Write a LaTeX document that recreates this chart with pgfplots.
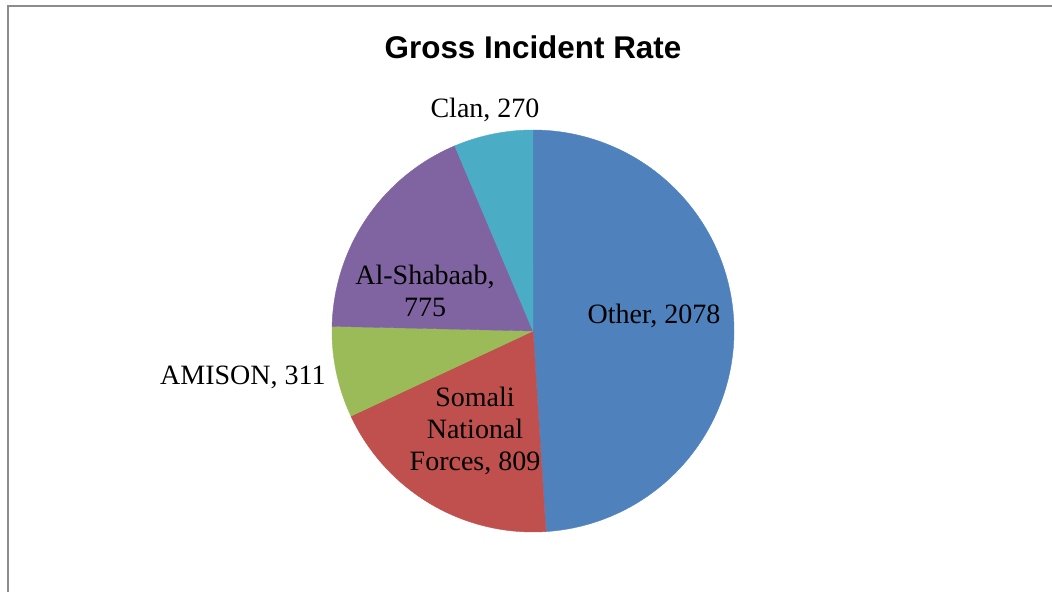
\documentclass[border=0pt]{standalone}
\usepackage{pgfplots}
\pgfplotsset{compat=1.18}
\usepackage{pgfplotstable}
\usepackage{fontspec}
\setmainfont{Liberation Serif}
\newfontfamily\titlefont{Liberation Sans}
\definecolor{cOther}{HTML}{4F81BD}
\definecolor{cSomali}{HTML}{C0504D}
\definecolor{cAmison}{HTML}{9BBB59}
\definecolor{cShabaab}{HTML}{8064A2}
\definecolor{cClan}{HTML}{4BACC6}
\definecolor{frame}{HTML}{8C8C8C}
\pgfplotstableread{
label value
Other 2078
Somali 809
AMISON 311
AlShabaab 775
Clan 270
}\piedata
\pgfplotstablegetelem{0}{value}\of\piedata \pgfmathsetmacro\vA{\pgfplotsretval}
\pgfplotstablegetelem{1}{value}\of\piedata \pgfmathsetmacro\vB{\pgfplotsretval}
\pgfplotstablegetelem{2}{value}\of\piedata \pgfmathsetmacro\vC{\pgfplotsretval}
\pgfplotstablegetelem{3}{value}\of\piedata \pgfmathsetmacro\vD{\pgfplotsretval}
\pgfplotstablegetelem{4}{value}\of\piedata \pgfmathsetmacro\vE{\pgfplotsretval}
\pgfmathsetmacro\tot{\vA+\vB+\vC+\vD+\vE}
\pgfmathsetmacro\aA{90}
\pgfmathsetmacro\aB{\aA-360*(\vA/\tot)}
\pgfmathsetmacro\aC{\aB-360*(\vB/\tot)}
\pgfmathsetmacro\aD{\aC-360*(\vC/\tot)}
\pgfmathsetmacro\aE{\aD-360*(\vD/\tot)}
\pgfmathsetmacro\aF{\aE-360*(\vE/\tot)}
\begin{document}
\begin{tikzpicture}
\begin{axis}[
  scale only axis, width=526pt, height=296pt,
  xmin=0, xmax=1052, ymin=0, ymax=592, y dir=reverse,
  hide axis, clip=true,
]
\addplot[fill=cOther, draw=cOther, line width=0.2pt, domain=\aB:\aA, samples=120]
  ({533+201*cos(x)},{331-201*sin(x)}) -- (axis cs:533,331) -- cycle;
\addplot[fill=cSomali, draw=cSomali, line width=0.2pt, domain=\aC:\aB, samples=60]
  ({533+201*cos(x)},{331-201*sin(x)}) -- (axis cs:533,331) -- cycle;
\addplot[fill=cAmison, draw=cAmison, line width=0.2pt, domain=\aD:\aC, samples=30]
  ({533+201*cos(x)},{331-201*sin(x)}) -- (axis cs:533,331) -- cycle;
\addplot[fill=cShabaab, draw=cShabaab, line width=0.2pt, domain=\aE:\aD, samples=60]
  ({533+201*cos(x)},{331-201*sin(x)}) -- (axis cs:533,331) -- cycle;
\addplot[fill=cClan, draw=cClan, line width=0.2pt, domain=\aF:\aE, samples=30]
  ({533+201*cos(x)},{331-201*sin(x)}) -- (axis cs:533,331) -- cycle;
\draw[frame, line width=1pt] (axis cs:8,592) -- (axis cs:8,6.5) -- (axis cs:1052,6.5);
\node[font=\titlefont\bfseries\fontsize{15.7}{18}\selectfont] at (axis cs:533,47) {Gross Incident Rate};
\begin{scope}[every node/.style={font=\fontsize{14}{16.2}\selectfont, align=center, inner sep=0pt}]
\node at (axis cs:485,110) {Clan, 270};
\node at (axis cs:425,291) {Al-Shabaab,\\775};
\node at (axis cs:654,316) {Other, 2078};
\node[anchor=east] at (axis cs:326,377) {AMISON, 311};
\node at (axis cs:475,431) {Somali\\National\\Forces, 809};
\end{scope}
\coordinate (bbA) at (axis cs:0,0);
\coordinate (bbB) at (axis cs:1052,592);
\end{axis}
\pgfresetboundingbox
\useasboundingbox (bbA) rectangle (bbB);
\end{tikzpicture}
\end{document}
